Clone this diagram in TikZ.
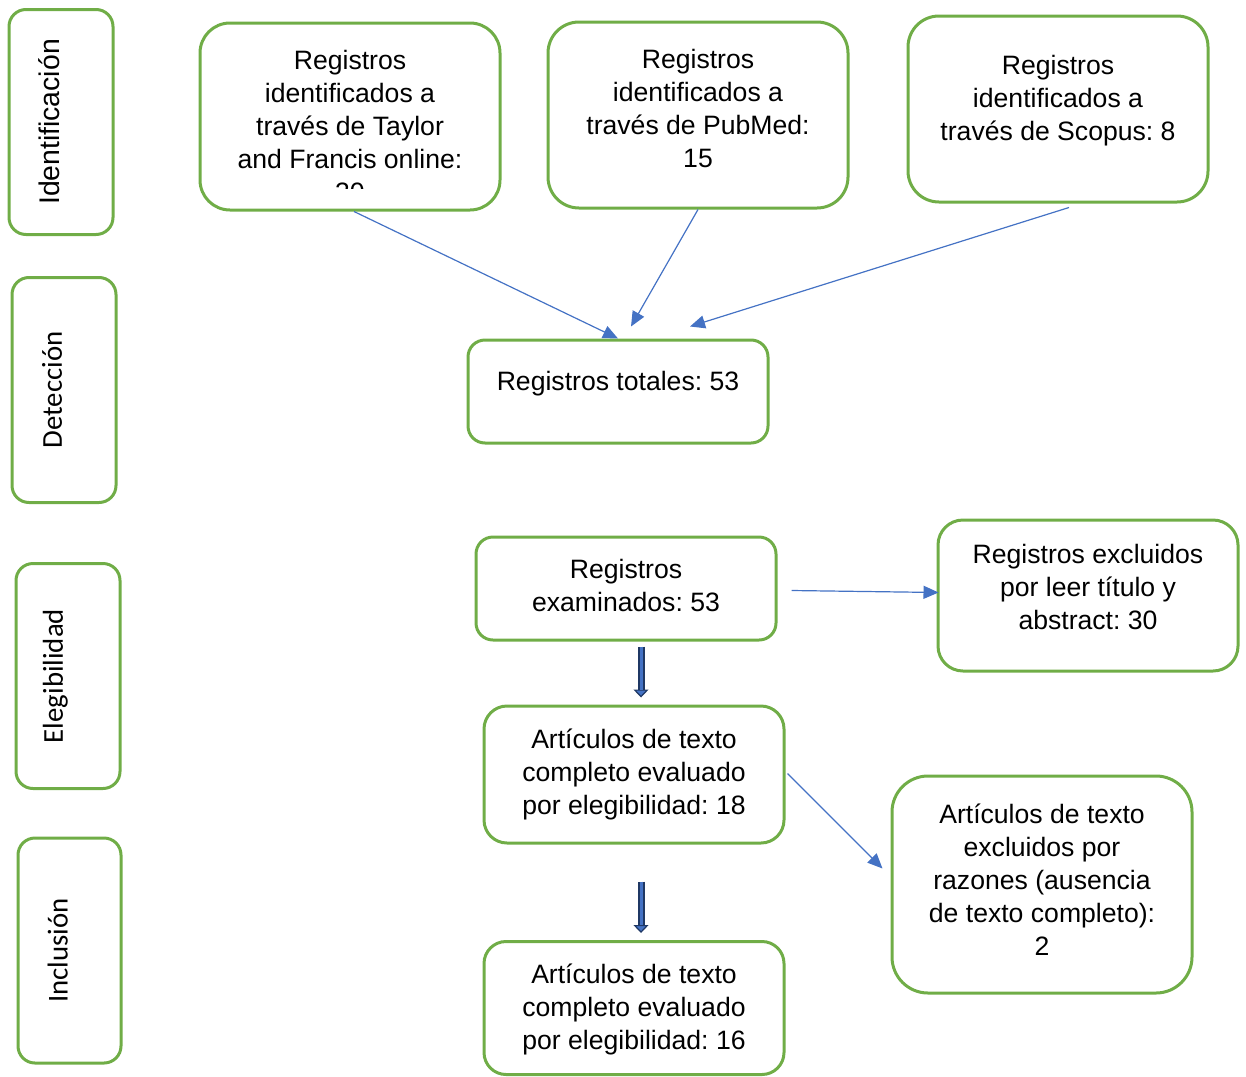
\documentclass[tikz,border=0pt]{standalone}
\usepackage{fontspec}
\setmainfont{Liberation Sans}
\newfontfamily\stagefont{Carlito}
\usetikzlibrary{arrows.meta}
\definecolor{boxgreen}{HTML}{70AD47}
\definecolor{arrblue}{HTML}{4472C4}
\definecolor{arrnavy}{HTML}{1F3864}
\frenchspacing

\begin{document}
\begin{tikzpicture}[
  x=0.5pt, y=-0.5pt,
  font=\fontsize{13.3}{16.5}\selectfont,
  stage/.style={draw=boxgreen, line width=1.5pt, rounded corners=8.5pt,
    minimum width=112.5pt, minimum height=52pt, inner sep=0pt,
    rotate=90, text depth=12pt, font=\stagefont\fontsize{14.4}{17}\selectfont},
  box/.style={draw=boxgreen, line width=1.5pt, align=center,
    minimum width=150pt, inner sep=0pt},
  arr/.style={draw=arrblue, line width=0.6pt,
    -{Triangle[width=6.5pt,length=7.5pt]}},
  bigarr/.style={draw=arrnavy, line width=3.5pt,
    -{Triangle[width=7.5pt,length=4pt,fill=arrblue,line width=0.6pt]},
    postaction={draw=arrblue, line width=1.5pt, arrows=-, shorten >=4pt}}]
\useasboundingbox (0,0) rectangle (1246,1076);

% etapas
\node[stage, font=\fontsize{14.2}{17}\selectfont] (ident) at (61,122) {Identificación};
\node[stage] (detec) at (64,390) {Detección};
\node[stage, text depth=15pt] (elegi) at (68,676) {Elegibilidad};
\node[stage, minimum height=51.5pt] (inclu) at (69.5,950.5) {Inclusión};

% identificacion
\node[box, minimum height=93.5pt, rounded corners=15pt, path picture={
    \clip ([yshift=11pt]path picture bounding box.south west)
      rectangle (path picture bounding box.north east);
    \node[draw=none, align=center, anchor=north, inner sep=0pt]
      at ([yshift=-4pt]path picture bounding box.north)
      {Registros\\identificados a\\través de Taylor\\and Francis online:\\30};
  }] (taylor) at (350,116.5) {};
\node[box, minimum height=93pt, rounded corners=15.5pt, text depth=7pt] (pubmed) at (698,115)
  {Registros\\identificados a\\través de PubMed:\\15};
\node[box, minimum height=93pt, rounded corners=15.5pt, text depth=11pt] (scopus) at (1058,109)
  {Registros\\identificados a\\través de Scopus: 8};

% deteccion
\node[box, minimum height=51.5pt, rounded corners=8.5pt, text depth=11pt] (tot) at (618,391.5)
  {Registros totales: 53};

% elegibilidad
\node[box, minimum height=51.5pt, rounded corners=8.5pt, text depth=3pt] (exam) at (626,588.5)
  {Registros\\examinados: 53};
\node[box, minimum height=75.5pt, rounded corners=12.5pt, text depth=9pt] (excl) at (1088,595.5)
  {Registros excluidos\\por leer título y\\abstract: 30};
\node[box, minimum height=68.5pt, rounded corners=11.5pt] (art18) at (634,774.5)
  {Artículos de texto\\completo evaluado\\por elegibilidad: 18};
\node[box, minimum height=108.5pt, rounded corners=18pt, text depth=5pt] (excl2) at (1042,884.5)
  {Artículos de texto\\excluidos por\\razones (ausencia\\de texto completo):\\2};

% inclusion
\node[box, minimum height=66.5pt, rounded corners=11pt, text depth=1pt] (art16) at (634,1008)
  {Artículos de texto\\completo evaluado\\por elegibilidad: 16};

% conectores
\draw[arr] ([xshift=2pt]taylor.south) -- (tot.north);
\draw[arr] (pubmed.south) -- ([xshift=6.5pt,yshift=6pt]tot.north);
\draw[arr] ([xshift=5.5pt,yshift=-2pt]scopus.south) -- ([xshift=36pt,yshift=6pt]tot.north);
\draw[arr] ([xshift=7pt,yshift=-1pt]exam.east) -- ([xshift=1pt,yshift=1.5pt]excl.west);
\draw[arr] ([xshift=1pt,yshift=0.5pt]art18.east) -- ([xshift=-4pt,yshift=8pt]excl2.west);
\draw[bigarr] ([xshift=7.5pt,yshift=-2.5pt]exam.south) -- ([xshift=3.5pt,yshift=3.5pt]art18.north);
\draw[bigarr] ([xshift=3.5pt,yshift=-18.5pt]art18.south) -- ([xshift=3.5pt,yshift=3.5pt]art16.north);
\end{tikzpicture}
\end{document}
